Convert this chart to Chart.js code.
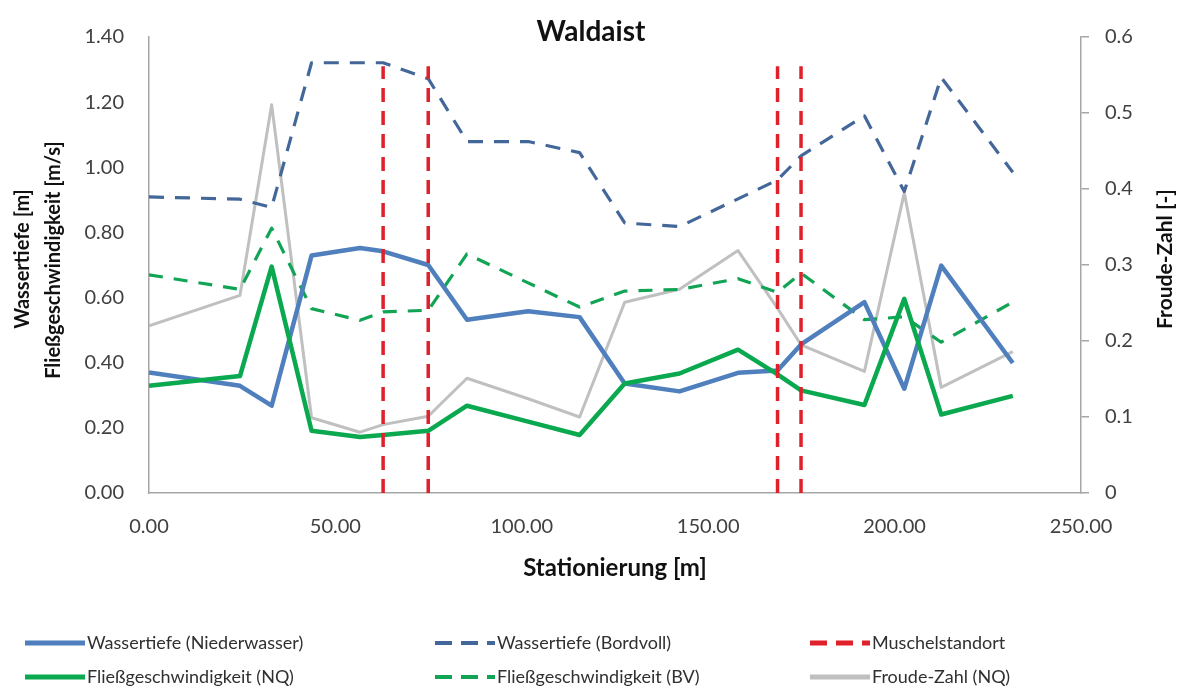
<!DOCTYPE html>
<html>
<head>
<meta charset="utf-8">
<script src="https://cdn.jsdelivr.net/npm/chart.js@4.4.1/dist/chart.umd.min.js"></script>
<style>
  html, body { margin: 0; padding: 0; background: #ffffff; }
  #wrap { width: 1181px; height: 690px; position: relative; }
</style>
</head>
<body>
<div id="wrap"><canvas id="c" width="1181" height="690"></canvas></div>
<script>
// Stationierung [m] of the surveyed cross sections
const stations = [0, 24.4, 32.9, 43.6, 56.6, 62.8, 74.9, 85.3, 101.7, 115.5, 127.6, 142.3, 158.0, 168.6, 174.9, 191.9, 202.6, 212.5, 231.7];

// Wassertiefe [m]
const depthLow  = [0.370, 0.329, 0.268, 0.729, 0.752, 0.742, 0.700, 0.532, 0.558, 0.540, 0.336, 0.312, 0.369, 0.376, 0.456, 0.586, 0.320, 0.698, 0.399];
const depthFull = [0.909, 0.902, 0.877, 1.321, 1.321, 1.321, 1.272, 1.079, 1.079, 1.045, 0.829, 0.818, 0.903, 0.961, 1.035, 1.158, 0.926, 1.276, 0.985];

// Fließgeschwindigkeit [m/s]
const velocityNQ = [0.329, 0.359, 0.695, 0.191, 0.172, 0.178, 0.191, 0.268, 0.219, 0.178, 0.336, 0.367, 0.440, 0.364, 0.315, 0.270, 0.596, 0.241, 0.298];
const velocityBV = [0.670, 0.625, 0.813, 0.566, 0.530, 0.556, 0.561, 0.734, 0.645, 0.571, 0.620, 0.625, 0.658, 0.616, 0.675, 0.532, 0.541, 0.463, 0.586];

// Froude-Zahl [-] at low flow
const froudeNQ = [0.220, 0.260, 0.511, 0.099, 0.080, 0.090, 0.101, 0.151, 0.124, 0.100, 0.251, 0.268, 0.319, 0.243, 0.195, 0.160, 0.395, 0.139, 0.186];

// Mussel locations (vertical markers) and their height on the left axis
const musselStations = [62.8, 74.9, 168.6, 174.9];
const musselTop = 1.31;

// Axis tick values
const xTicks = [0, 50, 100, 150, 200, 250];
const yLeftTicks = [0, 0.2, 0.4, 0.6, 0.8, 1.0, 1.2, 1.4];
const yRightTicks = [0, 0.1, 0.2, 0.3, 0.4, 0.5, 0.6];

const FONT = 'Lato, "Open Sans", "DejaVu Sans", sans-serif';
const TEXT = '#404040';
const AXIS = '#a6a6a6';

const pts = (vals) => stations.map((s, i) => ({ x: s, y: vals[i] }));

const datasets = [
  { label: 'Wassertiefe (Niederwasser)', data: pts(depthLow), yAxisID: 'y',
    borderColor: '#4f7fbd', borderWidth: 4.5, order: 2 },
  { label: 'Wassertiefe (Bordvoll)', data: pts(depthFull), yAxisID: 'y',
    borderColor: '#44679a', borderWidth: 3.2, borderDash: [15, 11], order: 4 },
  { label: 'Fließgeschwindigkeit (NQ)', data: pts(velocityNQ), yAxisID: 'y',
    borderColor: '#0aa84f', borderWidth: 4.5, order: 1 },
  { label: 'Fließgeschwindigkeit (BV)', data: pts(velocityBV), yAxisID: 'y',
    borderColor: '#12a455', borderWidth: 3.2, borderDash: [14, 11], order: 3 },
  { label: 'Froude-Zahl (NQ)', data: pts(froudeNQ), yAxisID: 'y1',
    borderColor: '#c0c0c0', borderWidth: 3, order: 5 }
];

// one vertical dashed marker per mussel location
musselStations.forEach((s) => {
  datasets.push({
    label: 'Muschelstandort', data: [{ x: s, y: 0 }, { x: s, y: musselTop }], yAxisID: 'y',
    borderColor: '#e0202a', borderWidth: 3.5, borderDash: [14, 9], order: 0, isMussel: true
  });
});

datasets.forEach(d => {
  d.showLine = true;
  d.pointRadius = 0;
  d.pointHoverRadius = 0;
  d.tension = 0;
  d.fill = false;
  d.borderCapStyle = 'butt';
  d.borderJoinStyle = 'round';
});

// legend layout: [dataset label, column, row]
const legendItems = [
  ['Wassertiefe (Niederwasser)', 0, 0],
  ['Wassertiefe (Bordvoll)', 1, 0],
  ['Muschelstandort', 2, 0],
  ['Fließgeschwindigkeit (NQ)', 0, 1],
  ['Fließgeschwindigkeit (BV)', 1, 1],
  ['Froude-Zahl (NQ)', 2, 1]
];
const legendCols = [25, 435, 810];
const legendRows = [643, 677];

const decorations = {
  id: 'decorations',
  afterDraw(chart) {
    const ctx = chart.ctx;
    const area = chart.chartArea;
    ctx.save();
    ctx.fillStyle = '#111111';
    ctx.textAlign = 'center';
    ctx.textBaseline = 'middle';

    // chart title
    ctx.font = 'bold 28px ' + FONT;
    ctx.fillText('Waldaist', 591, 32);

    // axis titles
    ctx.font = 'bold 24px ' + FONT;
    ctx.fillText('Stationierung [m]', (area.left + area.right) / 2, 568);

    const vertical = (text, x, y) => {
      ctx.save();
      ctx.translate(x, y);
      ctx.rotate(-Math.PI / 2);
      ctx.fillText(text, 0, 0);
      ctx.restore();
    };
    ctx.font = 'bold 20px ' + FONT;
    vertical('Wassertiefe [m]', 23, 259);
    vertical('Fließgeschwindigkeit [m/s]', 54, 260);
    ctx.font = 'bold 21px ' + FONT;
    vertical('Froude-Zahl [-]', 1165, 259);

    // legend
    ctx.font = '18px ' + FONT;
    ctx.textAlign = 'left';
    ctx.fillStyle = '#303030';
    legendItems.forEach(([label, col, row]) => {
      const ds = chart.data.datasets.find(d => d.label === label);
      const x0 = legendCols[col];
      const y = legendRows[row];
      ctx.save();
      ctx.strokeStyle = ds.borderColor;
      ctx.lineWidth = ds.isMussel ? 5 : (ds.borderDash ? 4 : 5);
      ctx.setLineDash(ds.borderDash ? [17, 9] : []);
      ctx.beginPath();
      ctx.moveTo(x0, y);
      ctx.lineTo(x0 + 60, y);
      ctx.stroke();
      ctx.restore();
      ctx.fillText(label, x0 + 62, y);
    });
    ctx.restore();
  }
};

new Chart(document.getElementById('c'), {
  type: 'scatter',
  data: { datasets },
  options: {
    responsive: false,
    devicePixelRatio: 1,
    animation: false,
    layout: { padding: { top: 20, left: 0, right: 0, bottom: 0 } },
    plugins: { legend: { display: false }, tooltip: { enabled: false }, title: { display: false } },
    scales: {
      x: {
        type: 'linear', position: 'bottom', min: 0, max: 250,
        afterBuildTicks: s => { s.ticks = xTicks.map(v => ({ value: v })); },
        afterFit: s => { s.height = 197; },
        grid: { drawOnChartArea: false, drawTicks: false },
        border: { display: true, color: AXIS, width: 1.5 },
        ticks: { padding: 22, color: TEXT, font: { family: FONT, size: 20 },
                 maxRotation: 0, callback: v => v.toFixed(2) }
      },
      y: {
        type: 'linear', position: 'left', min: 0, max: 1.4,
        afterBuildTicks: s => { s.ticks = yLeftTicks.map(v => ({ value: v })); },
        afterFit: s => { s.width = 149; },
        grid: { drawOnChartArea: false, drawTicks: false },
        border: { display: true, color: AXIS, width: 1.5 },
        ticks: { padding: 25, color: TEXT, font: { family: FONT, size: 20 },
                 callback: v => v.toFixed(2) }
      },
      y1: {
        type: 'linear', position: 'right', min: 0, max: 0.6,
        afterBuildTicks: s => { s.ticks = yRightTicks.map(v => ({ value: v })); },
        afterFit: s => { s.width = 100; },
        grid: { drawOnChartArea: false, drawTicks: true, tickLength: 8, color: AXIS, lineWidth: 1.5 },
        border: { display: true, color: AXIS, width: 1.5 },
        ticks: { padding: 16, color: TEXT, font: { family: FONT, size: 20 },
                 callback: v => (Math.round(v * 10) / 10).toString() }
      }
    }
  },
  plugins: [decorations]
});
</script>
</body>
</html>
